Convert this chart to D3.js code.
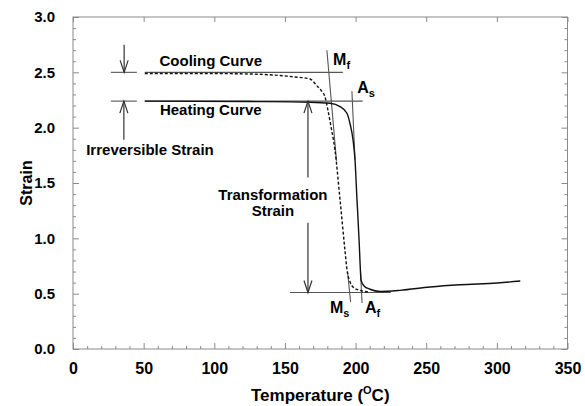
<!DOCTYPE html>
<html><head><meta charset="utf-8">
<script src="https://cdn.jsdelivr.net/npm/d3@7"></script>
<style>
body{margin:0;background:#fff;}
svg text{font-family:"Liberation Sans",Arial,sans-serif;font-weight:bold;fill:#000;}
</style></head><body>
<svg id="chart" width="585" height="406"></svg>
<script>
// ---- data ----
const xTicks = [0, 50, 100, 150, 200, 250, 300, 350];
const yTicks = [0.0, 0.5, 1.0, 1.5, 2.0, 2.5, 3.0];
const coolingT = [50.8, 89.8, 125.2, 155.7, 167.7, 172.5, 176.0, 178.3, 180.4, 182.6, 185.4, 189.0, 192.5, 194.0, 196.0, 198.2, 203.1, 210.2];
const coolingS = [2.49, 2.49, 2.485, 2.46, 2.44, 2.38, 2.33, 2.28, 2.16, 2.01, 1.80, 1.35, 0.89, 0.71, 0.61, 0.56, 0.53, 0.515];
const heatingT = [50.8, 125.2, 167.7, 181.9, 189.0, 193.9, 196.0, 198.2, 199.6, 201.0, 202.5, 203.1, 203.9, 206.0, 210.2, 217.3, 231.5, 252.8, 274.0, 300.3, 316.6];
const heatingS = [2.24, 2.236, 2.23, 2.22, 2.19, 2.13, 2.04, 1.89, 1.71, 1.35, 0.98, 0.80, 0.62, 0.57, 0.54, 0.52, 0.53, 0.56, 0.58, 0.596, 0.614];
// construction lines: [T1, S1, T2, S2]
const refLines = [
  [50.8, 2.50, 191.0, 2.50],   // cooling plateau
  [50.8, 2.24, 205.0, 2.24],   // heating plateau
  [26.8, 2.50, 45.2, 2.50],    // short left tick (cooling)
  [26.8, 2.24, 45.2, 2.24],    // short left tick (heating)
  [153.6, 0.51, 225.0, 0.51],  // base line
  [179.7, 2.70, 186.5, 1.70],  // Mf tangent
  [197.4, 2.33, 199.6, 1.71],  // As tangent
  [194.3, 0.70, 196.5, 0.425], // Ms tangent
  [203.5, 0.70, 204.6, 0.415]  // Af tangent
];
// arrows: [T, Sfrom, Sto]
const arrows = [
  [36.2, 2.75, 2.50],
  [36.0, 1.89, 2.24],
  [166.3, 1.55, 2.24],
  [166.3, 1.14, 0.51]
];
const labels = [
  {text: "Cooling Curve", T: 97.5, S: 2.56},
  {text: "Heating Curve", T: 97.5, S: 2.115},
  {text: "Irreversible Strain", T: 54.5, S: 1.755},
  {text: "Transformation", T: 141.5, S: 1.35},
  {text: "Strain", T: 141.5, S: 1.2}
];
const symbols = [
  {m: "M", sub: "f", T: 184.1, S: 2.565},
  {m: "A", sub: "s", T: 201.1, S: 2.315},
  {m: "M", sub: "s", T: 181.9, S: 0.325},
  {m: "A", sub: "f", T: 206.6, S: 0.325}
];

// ---- layout ----
const svg = d3.select("#chart");
const x = d3.scaleLinear().domain([0, 350]).range([73, 567.5]);
const y = d3.scaleLinear().domain([0, 3]).range([349, 17]);
const axisColor = "#8a8a8a";

// frame
svg.append("rect").attr("x", x(0)).attr("y", y(3)).attr("width", x(350) - x(0)).attr("height", y(0) - y(3))
  .attr("fill", "none").attr("stroke", axisColor).attr("stroke-width", 1);

function styleAxis(g, showText, fs) {
  g.select(".domain").remove();
  g.selectAll(".tick line").attr("stroke", axisColor);
  if (!showText) g.selectAll(".tick text").remove();
  else g.selectAll(".tick text").attr("font-size", fs).attr("fill", "#000");
}
const minorX = d3.range(0, 351, 10).filter(v => v % 50 !== 0);
const minorY = d3.range(0, 31, 1).map(v => v / 10).filter(v => Math.round(v * 10) % 5 !== 0);

// bottom
svg.append("g").attr("transform", `translate(0,${y(0)})`)
  .call(d3.axisBottom(x).tickValues(xTicks).tickSizeInner(-6).tickSizeOuter(0).tickPadding(14).tickFormat(d3.format("d")))
  .call(g => styleAxis(g, true, 16));
svg.append("g").attr("transform", `translate(0,${y(0)})`)
  .call(d3.axisBottom(x).tickValues(minorX).tickSizeInner(-3).tickSizeOuter(0).tickFormat(""))
  .call(g => styleAxis(g, false));
// top
svg.append("g").attr("transform", `translate(0,${y(3)})`)
  .call(d3.axisTop(x).tickValues(xTicks).tickSizeInner(-5).tickSizeOuter(0).tickFormat(""))
  .call(g => styleAxis(g, false));
// left
svg.append("g").attr("transform", `translate(${x(0)},0)`)
  .call(d3.axisLeft(y).tickValues(yTicks).tickSizeInner(-6).tickSizeOuter(0).tickPadding(18).tickFormat(d3.format(".1f")))
  .call(g => styleAxis(g, true, 15));
svg.append("g").attr("transform", `translate(${x(0)},0)`)
  .call(d3.axisLeft(y).tickValues(minorY).tickSizeInner(-3).tickSizeOuter(0).tickFormat(""))
  .call(g => styleAxis(g, false));
// right
svg.append("g").attr("transform", `translate(${x(350)},0)`)
  .call(d3.axisRight(y).tickValues(yTicks).tickSizeInner(-6).tickSizeOuter(0).tickFormat(""))
  .call(g => styleAxis(g, false));
svg.append("g").attr("transform", `translate(${x(350)},0)`)
  .call(d3.axisRight(y).tickValues(minorY).tickSizeInner(-3).tickSizeOuter(0).tickFormat(""))
  .call(g => styleAxis(g, false));

// axis titles
const xt = svg.append("text").attr("x", (x(0) + x(350)) / 2).attr("y", 401).attr("text-anchor", "middle").attr("font-size", 17);
xt.append("tspan").text("Temperature (");
xt.append("tspan").text("O").attr("font-size", 11).attr("dy", -7);
xt.append("tspan").text("C)").attr("dy", 7);
svg.append("text").attr("transform", `translate(32,${(y(0) + y(3)) / 2}) rotate(-90)`)
  .attr("text-anchor", "middle").attr("font-size", 16).text("Strain");

// construction lines
svg.append("g").selectAll("line").data(refLines).join("line")
  .attr("x1", d => x(d[0])).attr("y1", d => y(d[1])).attr("x2", d => x(d[2])).attr("y2", d => y(d[3]))
  .attr("stroke", "#555").attr("stroke-width", 1.1);

// curves
const line = d3.line().x(d => x(d[0])).y(d => y(d[1])).curve(d3.curveMonotoneX);
svg.append("path").datum(heatingT.map((t, i) => [t, heatingS[i]])).attr("d", line)
  .attr("fill", "none").attr("stroke", "#111").attr("stroke-width", 1.4);
svg.append("path").datum(coolingT.map((t, i) => [t, coolingS[i]])).attr("d", line)
  .attr("fill", "none").attr("stroke", "#111").attr("stroke-width", 1.4).attr("stroke-dasharray", "3,2");

// arrows
const ag = svg.append("g").attr("stroke", "#333").attr("stroke-width", 1.2).attr("fill", "none");
arrows.forEach(a => {
  const px = x(a[0]), y0 = y(a[1]), y1 = y(a[2]);
  const dir = y1 > y0 ? 1 : -1;
  ag.append("line").attr("x1", px).attr("y1", y0).attr("x2", px).attr("y2", y1);
  ag.append("path").attr("d", `M${px - 4},${y1 - dir * 12}L${px},${y1}L${px + 4},${y1 - dir * 12}`);
});

// labels
svg.append("g").selectAll("text").data(labels).join("text")
  .attr("x", d => x(d.T)).attr("y", d => y(d.S)).attr("text-anchor", "middle").attr("font-size", 15)
  .text(d => d.text);
symbols.forEach(s => {
  const t = svg.append("text").attr("x", x(s.T)).attr("y", y(s.S)).attr("font-size", 16);
  t.append("tspan").text(s.m);
  t.append("tspan").text(s.sub).attr("font-size", 11).attr("dy", 4);
});
</script>
</body></html>
